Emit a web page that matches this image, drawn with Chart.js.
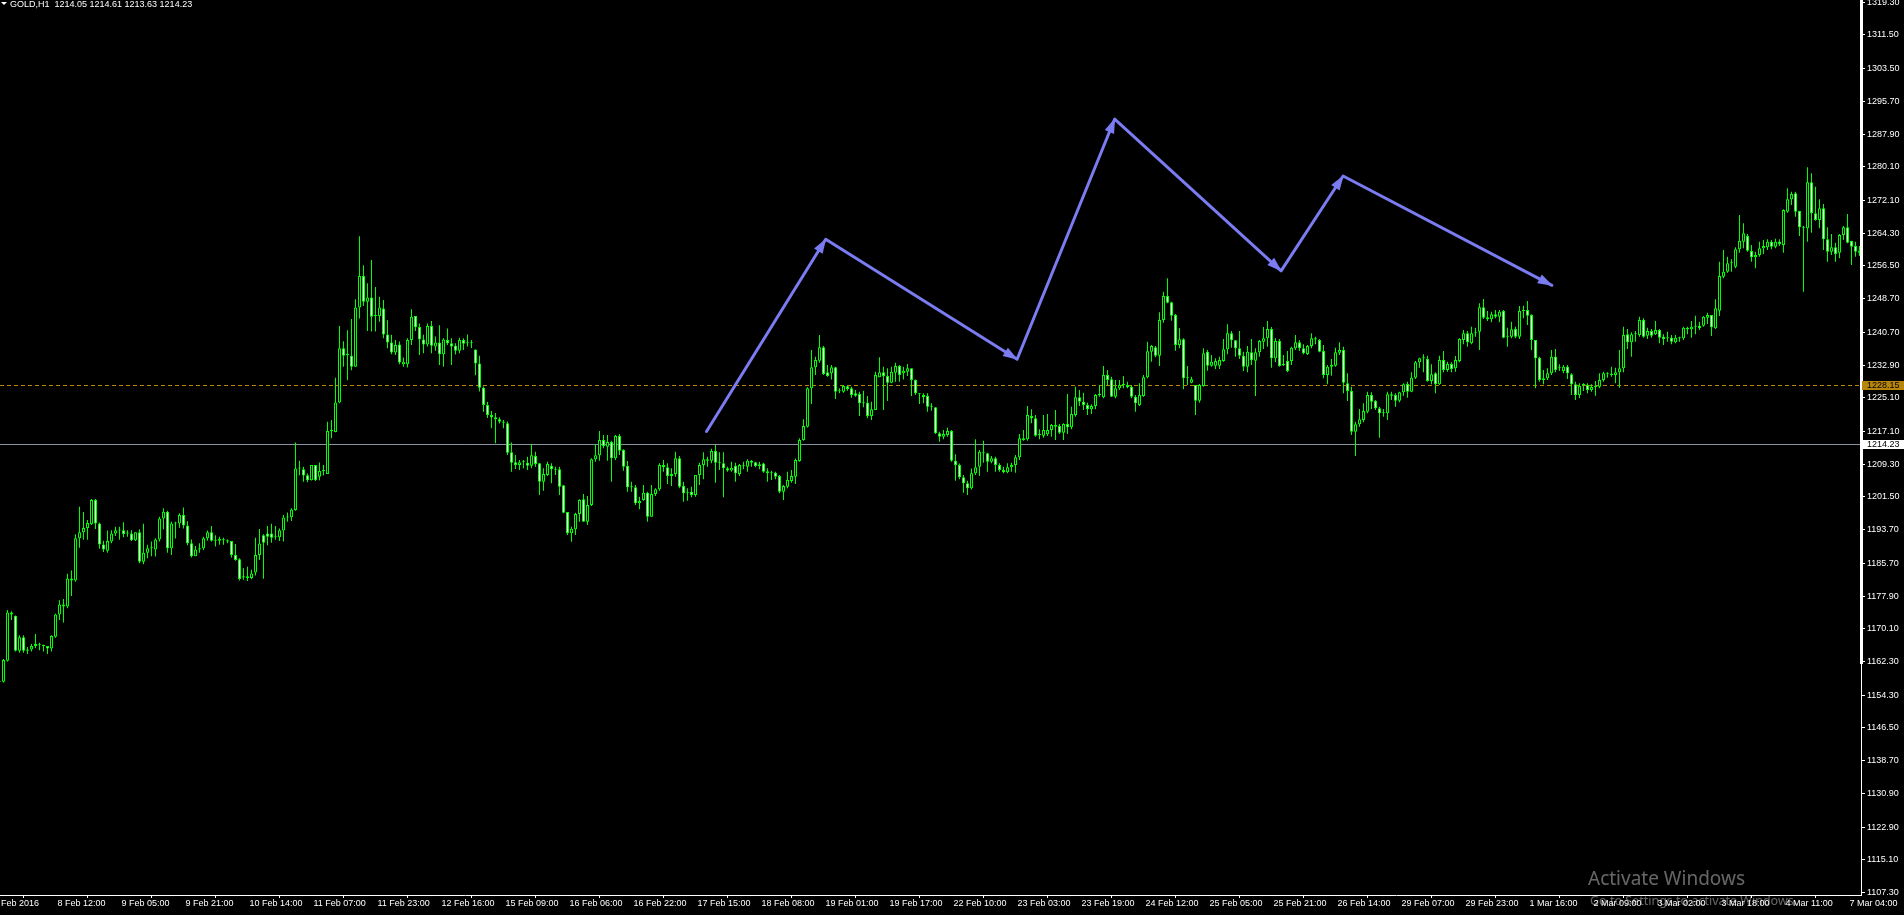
<!DOCTYPE html>
<html><head><meta charset="utf-8">
<script src="https://cdn.jsdelivr.net/npm/chart.js@4.4.1/dist/chart.umd.min.js"></script>
<style>html,body{margin:0;padding:0;background:#000;overflow:hidden}#wrap{width:1904px;height:915px}</style>
</head><body><div id="wrap"><canvas id="c" width="1904" height="915"></canvas></div>
<script>
// ---- data (GOLD, H1) ----
const firstBar = -1; // index of first (partially visible) bar
const opens = [
1157.5,1157.5,1162.5,1174.0,1173.2,1164.9,1168.1,1164.9,1165.2,1166.0,
1166.5,1166.3,1166.0,1165.4,1168.2,1173.5,1175.9,1175.4,1182.1,1181.6,
1191.65,1193.1,1194.1,1195.0,1200.8,1195.2,1190.2,1188.7,1190.9,1192.8,
1193.6,1193.6,1192.8,1192.8,1191.2,1193.1,1186.1,1188.2,1189.3,1189.0,
1191.4,1196.4,1198.0,1189.3,1195.2,1195.2,1197.2,1194.7,1190.5,1187.4,
1189.0,1189.3,1191.65,1193.1,1191.1,1191.1,1191.2,1191.2,1191.0,1187.7,
1186.7,1182.3,1182.6,1182.2,1183.5,1187.7,1192.4,1192.8,1192.8,1192.0,
1191.9,1193.5,1196.6,1196.7,1198.4,1208.3,1208.1,1206.7,1205.5,1209.1,
1206.3,1207.7,1207.0,1217.2,1217.0,1224.0,1236.9,1235.3,1235.1,1232.5,
1246.6,1254.1,1248.0,1249.0,1244.6,1244.6,1246.4,1240.2,1238.3,1235.9,
1237.8,1233.1,1233.1,1238.9,1244.6,1242.0,1239.0,1237.8,1242.2,1237.3,
1238.3,1235.5,1238.9,1238.1,1237.5,1236.3,1238.9,1238.1,1238.1,1236.6,
1233.3,1227.5,1223.4,1221.0,1220.5,1220.0,1219.43,1219.04,1212.13,1209.75,
1209.12,1209.75,1209.67,1208.96,1211.26,1209.51,1205.15,1206.74,1208.96,1208.08,
1208.08,1204.27,1197.93,1192.85,1193.8,1197.45,1200.94,1195.62,1199.59,1210.46,
1211.42,1215.07,1213.48,1214.59,1210.7,1216.02,1212.69,1208.88,1203.8,1203.8,
1199.99,1200.78,1202.53,1196.81,1202.21,1203.32,1209.12,1208.56,1206.5,1206.97,
1210.7,1204.12,1202.37,1202.77,1201.97,1206.74,1209.12,1210.46,1210.15,1212.45,
1209.67,1209.51,1208.32,1207.8,1208.87,1206.96,1209.0,1208.71,1210.06,1209.74,
1208.9,1209.5,1207.6,1207.12,1207.28,1206.49,1202.76,1203.95,1205.3,1206.33,
1210.06,1215.06,1218.23,1227.36,1232.36,1233.95,1237.12,1231.17,1230.93,1232.36,
1226.8,1226.57,1227.84,1227.36,1226.17,1226.01,1223.79,1223.95,1220.77,1222.2,
1229.98,1231.17,1230.3,1228.71,1231.09,1232.68,1230.93,1231.33,1232.12,1229.34,
1226.0,1225.77,1225.53,1223.0,1222.84,1216.65,1215.85,1216.25,1217.2,1210.14,
1209.11,1206.17,1204.74,1203.55,1207.13,1208.71,1212.29,1211.89,1209.9,1210.7,
1209.11,1207.92,1207.37,1208.56,1209.11,1210.94,1215.46,1215.22,1220.78,1220.22,
1216.26,1216.1,1216.41,1217.45,1218.63,1218.4,1216.81,1218.87,1218.08,1221.02,
1225.22,1224.19,1223.4,1222.37,1223.16,1225.78,1225.22,1230.54,1229.51,1225.38,
1227.37,1228.16,1228.16,1227.76,1225.38,1223.4,1225.54,1229.98,1236.1,1237.13,
1235.14,1243.64,1249.35,1247.84,1244.83,1237.68,1239.03,1229.75,1228.71,1228.16,
1224.43,1227.92,1236.1,1232.76,1232.76,1232.76,1233.88,1236.65,1240.46,1238.8,
1236.89,1235.14,1232.53,1235.94,1233.95,1235.94,1238.48,1239.27,1241.49,1234.51,
1238.64,1232.92,1233.88,1233.88,1236.89,1238.32,1236.89,1235.54,1237.45,1239.27,
1238.87,1236.26,1230.54,1232.53,1232.76,1235.86,1236.49,1228.56,1226.73,1217.05,
1218.8,1219.83,1221.81,1225.78,1224.35,1222.6,1221.41,1221.41,1225.94,1225.78,
1224.43,1226.41,1228.4,1226.57,1229.91,1233.56,1234.51,1234.35,1229.11,1230.94,
1228.32,1234.11,1231.73,1233.16,1232.13,1233.88,1238.87,1240.46,1238.08,1240.46,
1240.86,1246.65,1243.8,1243.8,1244.99,1244.43,1245.78,1239.67,1239.67,1241.49,
1239.67,1245.78,1246.02,1244.83,1238.87,1234.67,1229.75,1229.75,1230.94,1234.91,
1232.13,1231.49,1232.53,1230.7,1228.32,1225.78,1228.16,1228.16,1226.97,1227.68,
1227.76,1229.35,1230.86,1230.86,1230.54,1231.18,1232.13,1240.22,1238.32,1240.22,
1240.07,1243.64,1239.91,1241.02,1240.22,1241.26,1239.67,1239.27,1239.43,1238.32,
1239.27,1239.27,1241.81,1241.41,1242.05,1242.29,1242.29,1244.19,1244.83,1241.65,
1245.86,1253.95,1255.14,1257.13,1256.33,1260.46,1262.29,1263.63,1260.06,1258.56,
1259.11,1260.7,1260.94,1262.29,1261.1,1262.29,1261.49,1269.43,1272.36,1273.79,
1269.59,1265.62,1265.46,1276.41,1269.03,1267.44,1270.22,1262.84,1259.9,1260.94,
1259.67,1263.87,1265.7,1262.44,1261.25,1260.14
];
const highs = [
1157.8,1162.9,1174.6,1174.3,1173.3,1168.6,1168.6,1165.8,1166.5,1168.9,
1166.8,1166.3,1166.0,1168.6,1173.7,1176.9,1177.2,1183.2,1184.0,1192.6,
1199.2,1197.9,1196.0,1201.0,1201.0,1195.4,1191.1,1193.5,1193.6,1194.4,
1194.4,1195.5,1193.6,1193.6,1193.1,1193.8,1195.1,1190.1,1190.9,1191.65,
1196.8,1198.8,1198.2,1195.6,1195.6,1197.6,1199.0,1195.7,1191.4,1189.8,
1190.5,1192.0,1193.5,1194.6,1192.4,1192.0,1191.8,1191.4,1191.0,1190.3,
1186.9,1184.5,1184.9,1184.2,1191.8,1193.9,1192.6,1194.6,1195.1,1194.6,
1194.0,1197.2,1197.8,1198.8,1214.5,1210.1,1208.7,1207.1,1209.1,1209.1,
1209.7,1209.1,1219.4,1219.8,1229.9,1242.2,1238.6,1241.2,1243.9,1248.6,
1263.6,1256.7,1252.4,1257.9,1251.5,1249.2,1248.4,1243.6,1240.1,1238.9,
1238.5,1234.7,1239.3,1246.2,1244.6,1242.8,1240.1,1242.8,1243.4,1239.7,
1242.4,1239.3,1241.6,1239.3,1238.1,1239.4,1239.3,1240.2,1238.9,1236.6,
1235.1,1227.8,1224.2,1222.0,1221.5,1220.5,1219.83,1219.5,1214.5,1211.5,
1210.31,1210.31,1211.1,1214.1,1212.29,1209.6,1208.32,1209.91,1209.51,1208.72,
1208.72,1204.27,1197.93,1194.43,1197.77,1200.94,1202.21,1201.74,1210.7,1214.1,
1217.2,1216.26,1216.26,1214.91,1216.26,1216.5,1212.85,1210.07,1205.15,1204.35,
1201.58,1204.35,1202.77,1204.35,1203.56,1209.51,1210.31,1209.51,1208.32,1212.29,
1211.26,1205.15,1203.56,1203.96,1206.74,1209.67,1212.13,1211.1,1213.0,1213.88,
1212.13,1212.13,1208.72,1209.9,1209.66,1209.34,1209.9,1210.46,1210.3,1209.9,
1209.9,1209.66,1208.31,1207.76,1207.52,1206.73,1204.35,1207.52,1207.92,1210.69,
1215.46,1219.98,1227.6,1236.49,1234.9,1240.06,1237.44,1232.92,1232.92,1232.52,
1227.36,1228.15,1228.07,1227.76,1226.96,1226.57,1226.8,1225.53,1224.19,1231.33,
1234.74,1232.52,1232.12,1232.52,1233.47,1232.92,1232.52,1233.15,1232.12,1229.5,
1226.17,1226.17,1226.17,1223.79,1222.84,1217.04,1217.44,1218.07,1217.44,1211.65,
1209.5,1206.73,1205.38,1208.3,1215.22,1212.68,1214.9,1212.05,1211.25,1211.1,
1209.51,1208.71,1209.51,1209.67,1211.49,1216.49,1217.45,1223.16,1222.37,1221.02,
1217.6,1221.02,1221.25,1218.87,1222.21,1218.87,1219.03,1226.02,1223.0,1227.76,
1226.97,1226.33,1223.95,1223.56,1226.02,1228.16,1232.68,1231.73,1230.14,1229.35,
1229.35,1230.3,1228.95,1228.16,1225.78,1228.56,1230.54,1238.48,1237.68,1237.44,
1245.46,1250.38,1253.56,1248.0,1245.06,1241.65,1239.27,1232.68,1230.14,1228.16,
1228.4,1236.89,1236.49,1235.3,1234.51,1234.91,1239.11,1242.6,1241.02,1238.87,
1241.02,1236.1,1237.45,1239.11,1236.89,1238.87,1241.97,1243.4,1241.97,1239.27,
1239.11,1235.3,1236.26,1237.29,1240.07,1238.87,1237.84,1237.68,1240.46,1239.67,
1239.11,1237.68,1232.92,1234.35,1237.05,1238.32,1237.29,1230.94,1227.76,1219.43,
1222.45,1223.8,1226.57,1226.41,1224.59,1223.0,1222.45,1226.57,1226.57,1226.18,
1226.57,1228.56,1228.95,1231.18,1233.88,1234.67,1235.46,1235.14,1233.08,1231.18,
1235.14,1236.26,1233.72,1233.56,1235.06,1239.27,1241.26,1241.02,1242.05,1241.81,
1247.6,1248.64,1245.78,1245.62,1246.02,1246.02,1246.02,1241.81,1243.24,1242.05,
1246.97,1247.05,1248.16,1244.99,1238.87,1234.91,1231.73,1232.13,1236.49,1236.73,
1233.08,1232.92,1232.92,1230.94,1228.95,1228.56,1228.56,1228.56,1228.32,1229.11,
1230.94,1231.33,1231.18,1232.53,1232.29,1236.49,1242.05,1241.49,1240.7,1241.02,
1244.43,1244.03,1241.81,1241.49,1243.4,1241.49,1240.22,1240.86,1240.07,1240.07,
1239.67,1242.05,1242.05,1243.4,1244.67,1243.24,1244.59,1245.38,1244.83,1248.56,
1257.52,1260.3,1258.71,1258.08,1260.94,1268.64,1266.65,1264.11,1261.49,1259.9,
1262.29,1262.68,1262.84,1262.68,1263.0,1262.84,1269.98,1274.98,1274.19,1274.19,
1269.67,1266.02,1279.98,1278.56,1275.38,1272.36,1271.25,1265.7,1264.11,1262.05,
1264.11,1266.02,1268.87,1262.52,1262.29,1261.25
];
const lows = [
1157.2,1157.3,1162.3,1172.2,1164.7,1164.4,1164.4,1164.1,1164.7,1165.5,
1165.0,1164.7,1164.1,1164.7,1168.0,1172.2,1171.6,1175.0,1177.9,1181.3,
1189.4,1191.3,1191.3,1194.8,1193.9,1189.2,1188.4,1188.2,1190.5,1192.2,
1191.3,1191.9,1192.0,1191.0,1191.0,1185.7,1185.5,1186.9,1187.4,1187.3,
1190.9,1193.8,1188.2,1187.7,1191.6,1194.2,1194.0,1190.0,1187.1,1187.4,
1188.2,1188.9,1191.1,1190.9,1189.7,1190.1,1190.1,1190.5,1187.1,1186.3,
1181.6,1181.8,1181.5,1181.9,1182.8,1186.5,1182.0,1190.0,1190.6,1191.3,
1191.0,1190.9,1195.6,1195.8,1198.2,1206.7,1205.1,1205.0,1205.4,1205.3,
1205.5,1206.6,1207.0,1215.5,1216.9,1223.8,1232.5,1229.3,1231.7,1232.5,
1244.0,1247.0,1241.0,1240.9,1240.9,1243.2,1239.3,1236.9,1235.5,1235.3,
1233.1,1232.5,1232.3,1237.7,1241.0,1235.3,1235.7,1237.3,1235.7,1236.3,
1232.9,1232.5,1237.7,1232.9,1235.4,1235.7,1236.5,1237.3,1237.0,1230.5,
1226.6,1221.8,1220.3,1217.85,1214.27,1219.0,1217.85,1211.5,1207.53,1208.16,
1207.93,1208.32,1207.93,1208.32,1208.72,1201.97,1203.0,1206.5,1204.75,1206.74,
1201.97,1197.61,1192.45,1190.86,1192.45,1195.62,1195.62,1194.83,1199.35,1209.91,
1210.15,1213.08,1210.15,1205.15,1210.31,1211.5,1207.77,1202.77,1202.77,1199.59,
1198.56,1200.62,1195.62,1196.81,1201.74,1203.0,1207.53,1204.59,1204.12,1206.34,
1203.56,1200.39,1200.62,1201.42,1201.58,1204.35,1205.7,1208.72,1209.51,1204.91,
1207.93,1201.42,1207.53,1207.52,1205.14,1206.49,1208.08,1207.52,1208.71,1208.55,
1208.08,1207.28,1205.14,1205.54,1205.7,1202.36,1200.77,1203.55,1204.9,1204.58,
1209.9,1214.9,1218.07,1223.63,1230.53,1233.47,1230.53,1230.14,1229.5,1224.82,
1226.17,1226.33,1226.8,1225.14,1225.38,1220.77,1222.84,1220.22,1219.82,1222.2,
1229.98,1222.2,1224.34,1228.55,1228.95,1228.95,1229.5,1230.3,1225.53,1225.77,
1223.63,1223.79,1221.8,1222.04,1216.49,1214.66,1215.22,1215.85,1209.9,1205.38,
1205.7,1202.52,1201.96,1203.3,1206.73,1206.49,1209.67,1207.52,1209.51,1207.52,
1207.52,1207.13,1207.13,1207.52,1207.29,1210.3,1214.9,1214.9,1219.03,1215.86,
1215.22,1215.62,1216.02,1215.86,1215.06,1216.49,1215.06,1216.49,1217.6,1220.62,
1223.16,1222.21,1221.02,1221.25,1222.37,1225.38,1224.98,1228.16,1225.38,1224.98,
1226.97,1227.37,1227.37,1224.98,1221.81,1223.16,1225.38,1229.75,1233.71,1234.75,
1232.68,1243.0,1247.6,1243.48,1236.33,1236.89,1227.13,1228.16,1228.56,1221.02,
1223.95,1227.76,1231.57,1232.52,1231.97,1231.97,1233.72,1235.46,1237.05,1234.91,
1234.35,1231.49,1231.18,1232.92,1225.54,1234.91,1236.73,1237.29,1232.29,1233.56,
1232.53,1232.68,1231.18,1232.92,1236.49,1236.26,1235.46,1235.3,1236.89,1237.84,
1235.94,1229.75,1228.32,1230.38,1232.53,1235.3,1226.18,1224.35,1216.26,1211.26,
1218.24,1219.27,1221.41,1222.45,1222.21,1215.62,1220.62,1219.83,1224.59,1223.0,
1224.04,1225.62,1225.15,1226.41,1229.59,1232.29,1231.18,1228.95,1228.32,1226.18,
1228.16,1231.18,1231.33,1231.18,1231.33,1233.56,1237.84,1237.29,1237.84,1239.67,
1236.49,1243.87,1243.4,1243.08,1244.03,1243.08,1239.27,1237.29,1239.27,1239.27,
1239.11,1244.03,1242.45,1236.49,1227.37,1228.95,1228.32,1229.35,1230.54,1231.18,
1231.49,1230.94,1229.59,1225.78,1224.59,1224.99,1226.73,1226.18,1226.57,1225.62,
1227.37,1228.95,1229.91,1230.15,1228.56,1227.53,1231.18,1236.73,1234.91,1238.48,
1239.67,1239.43,1239.11,1239.43,1240.07,1238.08,1237.68,1238.48,1237.84,1238.08,
1238.48,1238.87,1240.22,1239.43,1240.22,1241.26,1242.05,1242.68,1239.83,1241.49,
1244.59,1253.56,1254.9,1255.14,1255.94,1259.67,1260.7,1259.9,1257.52,1255.94,
1258.71,1259.35,1260.3,1260.46,1260.7,1261.25,1259.67,1269.19,1271.02,1268.24,
1263.63,1250.38,1262.29,1264.43,1267.29,1265.46,1260.3,1257.52,1259.11,1257.52,
1258.32,1262.68,1261.89,1256.73,1258.71,1258.87
];
const closes = [
1157.5,1162.7,1174.0,1173.5,1164.9,1168.1,1164.9,1165.2,1166.0,1166.5,
1166.3,1166.0,1165.4,1168.4,1173.5,1175.9,1175.4,1182.1,1181.6,1191.65,
1193.1,1194.1,1195.3,1200.8,1195.2,1190.2,1189.0,1191.0,1192.8,1193.6,
1193.5,1192.7,1192.8,1191.2,1193.1,1186.1,1188.2,1189.3,1189.3,1191.4,
1196.4,1198.0,1189.3,1195.2,1195.2,1197.2,1194.7,1190.5,1187.4,1189.0,
1189.3,1191.65,1193.1,1191.1,1191.1,1191.5,1191.2,1190.9,1187.7,1186.5,
1181.95,1182.6,1182.2,1183.3,1187.7,1190.45,1190.6,1192.0,1191.8,1192.0,
1193.6,1196.6,1196.8,1198.5,1208.3,1208.3,1206.6,1205.5,1209.1,1205.5,
1207.7,1207.9,1217.2,1217.2,1224.0,1236.9,1235.1,1235.3,1232.5,1246.6,
1254.1,1248.0,1249.0,1244.4,1244.6,1246.6,1240.2,1238.3,1235.9,1237.7,
1233.5,1233.7,1238.9,1244.4,1241.9,1239.0,1237.8,1242.2,1237.5,1238.3,
1235.5,1239.0,1238.1,1237.3,1236.3,1238.9,1238.0,1238.1,1238.1,1233.3,
1227.5,1223.4,1221.0,1220.5,1220.0,1219.43,1219.2,1212.05,1209.67,1209.12,
1209.75,1209.91,1208.96,1211.42,1209.35,1205.15,1206.97,1209.35,1208.08,1208.0,
1203.96,1197.77,1192.85,1193.96,1197.45,1200.78,1195.62,1199.59,1210.46,1211.42,
1215.07,1213.64,1214.59,1210.7,1216.02,1212.53,1208.72,1203.8,1203.8,1199.99,
1200.54,1202.53,1196.81,1202.21,1203.32,1209.12,1208.56,1206.5,1206.97,1210.7,
1203.96,1202.37,1202.53,1201.97,1206.74,1209.12,1210.46,1210.15,1212.45,1209.67,
1209.83,1208.32,1207.8,1208.47,1207.12,1209.11,1208.95,1210.14,1209.66,1208.87,
1209.3,1207.52,1207.12,1207.12,1206.33,1202.76,1204.11,1205.54,1206.49,1210.3,
1215.06,1218.39,1227.36,1232.36,1234.11,1237.12,1230.77,1230.3,1232.36,1226.57,
1226.8,1227.92,1227.2,1225.77,1225.61,1223.79,1223.79,1220.77,1222.36,1230.53,
1231.17,1230.3,1228.71,1231.33,1232.68,1230.53,1231.57,1232.12,1229.34,1226.17,
1225.93,1225.22,1223.0,1223.0,1216.65,1215.85,1216.49,1217.2,1210.14,1209.11,
1206.17,1204.74,1203.55,1207.12,1208.56,1212.29,1212.05,1209.9,1210.7,1209.11,
1207.92,1207.37,1208.56,1209.11,1210.94,1215.46,1215.06,1221.02,1220.22,1216.1,
1216.26,1217.45,1217.45,1218.63,1218.24,1216.81,1218.87,1218.08,1221.25,1225.22,
1224.19,1223.4,1222.37,1223.16,1225.78,1225.78,1230.54,1229.35,1225.38,1227.37,
1228.16,1228.16,1227.6,1225.38,1223.79,1225.78,1229.98,1236.17,1237.44,1235.14,
1243.64,1249.35,1247.76,1244.67,1237.68,1239.03,1229.75,1229.75,1229.51,1224.43,
1228.16,1235.7,1232.76,1233.71,1233.88,1234.11,1236.65,1240.46,1238.8,1236.89,
1235.14,1232.53,1236.1,1234.03,1235.94,1238.64,1239.27,1241.49,1234.51,1238.64,
1232.68,1232.92,1231.49,1237.05,1238.32,1236.89,1235.7,1237.45,1239.27,1239.0,
1236.1,1230.54,1232.53,1232.92,1235.94,1236.49,1228.72,1226.73,1217.05,1218.8,
1219.99,1221.97,1225.78,1224.19,1222.6,1221.41,1221.41,1225.94,1225.62,1224.43,
1226.41,1228.32,1226.57,1229.91,1233.56,1234.51,1234.51,1229.11,1230.7,1228.32,
1234.11,1231.73,1233.16,1231.97,1234.11,1239.11,1240.46,1238.32,1240.46,1240.7,
1246.65,1244.19,1244.27,1244.99,1244.43,1245.62,1239.43,1239.67,1241.41,1239.67,
1245.78,1246.02,1244.67,1238.87,1234.51,1229.35,1229.35,1230.94,1234.91,1231.73,
1232.13,1232.53,1230.94,1228.32,1225.78,1228.0,1228.16,1226.97,1227.68,1228.0,
1229.35,1230.94,1230.86,1230.54,1231.18,1232.13,1240.07,1238.32,1240.22,1240.46,
1243.64,1239.67,1241.02,1239.91,1241.26,1239.43,1239.11,1239.27,1238.48,1239.43,
1239.27,1241.81,1241.41,1242.05,1242.29,1241.65,1244.43,1244.83,1241.89,1246.41,
1254.11,1255.14,1257.13,1257.29,1260.46,1262.44,1264.27,1260.14,1258.56,1259.11,
1260.7,1261.25,1262.29,1261.1,1262.29,1261.73,1269.83,1272.36,1273.63,1269.43,
1265.7,1265.62,1276.41,1269.03,1267.44,1270.22,1262.84,1259.9,1260.94,1259.35,
1263.87,1265.7,1262.05,1261.1,1259.9,1259.67
];
const timeTickBars = [-3,13,29,45,61,77,93,109,125,141,157,173,189,205,221,237,253,269,285,301,317,333,349,365,381,397,413,429,445,461];
const timeTickLabels = ["8 Feb 2016","8 Feb 12:00","9 Feb 05:00","9 Feb 21:00","10 Feb 14:00","11 Feb 07:00","11 Feb 23:00","12 Feb 16:00","15 Feb 09:00","16 Feb 06:00","16 Feb 22:00","17 Feb 15:00","18 Feb 08:00","19 Feb 01:00","19 Feb 17:00","22 Feb 10:00","23 Feb 03:00","23 Feb 19:00","24 Feb 12:00","25 Feb 05:00","25 Feb 21:00","26 Feb 14:00","29 Feb 07:00","29 Feb 23:00","1 Mar 16:00","2 Mar 09:00","3 Mar 02:00","3 Mar 18:00","4 Mar 11:00","7 Mar 04:00"];
const priceTicks = [1319.30,1311.50,1303.50,1295.70,1287.90,1280.10,1272.10,1264.30,1256.50,1248.70,1240.70,1232.90,1225.10,1217.10,1209.30,1201.50,1193.70,1185.70,1177.90,1170.10,1162.30,1154.30,1146.50,1138.70,1130.90,1122.90,1115.10,1107.30];
const arrowBars   = [175.75, 205.55, 253.4, 277.8, 319.4, 334.9, 387.1];
const arrowPrices = [1217.09, 1262.87, 1234.28, 1291.49, 1255.35, 1277.92, 1251.9];
const askPrice = 1228.15;
const bidPrice = 1214.23;
const headerText = "GOLD,H1  1214.05 1214.61 1213.63 1214.23";

// ---- build ----
const barX = opens.map((_, k) => firstBar + k);
const wickData = barX.map((x, k) => ({x, y: [lows[k], highs[k]]}));
const bodyData = barX.map((x, k) => ({x, y: [Math.min(opens[k], closes[k]), Math.max(opens[k], closes[k])]}));
const bodyFill = barX.map((_, k) => closes[k] < opens[k] ? '#ffffff' : '#000000');
const arrowData = arrowBars.map((x, i) => ({x, y: arrowPrices[i]}));
const ARROW = '#7b7bf2';
const FONT = '"Liberation Sans", Arial, sans-serif';

const overlay = {
  id: 'overlay',
  beforeDraw(chart) {
    const c = chart.ctx; c.save(); c.fillStyle = '#000'; c.fillRect(0, 0, chart.width, chart.height); c.restore();
  },
  beforeDatasetsDraw(chart) {
    const {ctx, chartArea: a, scales: {y}} = chart;
    ctx.save();
    const yb = Math.round(y.getPixelForValue(bidPrice)) + 0.5;
    ctx.strokeStyle = '#8893a6'; ctx.lineWidth = 1;
    ctx.beginPath(); ctx.moveTo(a.left, yb); ctx.lineTo(a.right, yb); ctx.stroke();
    const ya = Math.round(y.getPixelForValue(askPrice)) + 0.5;
    ctx.strokeStyle = '#b8860b'; ctx.setLineDash([4, 3]);
    ctx.beginPath(); ctx.moveTo(a.left, ya); ctx.lineTo(a.right, ya); ctx.stroke();
    ctx.restore();
  },
  afterDatasetsDraw(chart) {
    const {ctx, scales: {x, y}} = chart;
    const pts = arrowData.map(p => ({px: x.getPixelForValue(p.x), py: y.getPixelForValue(p.y)}));
    ctx.save(); ctx.fillStyle = ARROW;
    for (let i = 1; i < pts.length; i++) {
      const p = pts[i], q = pts[i - 1];
      const dx = p.px - q.px, dy = p.py - q.py, L = Math.hypot(dx, dy);
      const ux = dx / L, uy = dy / L, len = 14, hw = 5;
      ctx.beginPath();
      ctx.moveTo(p.px + ux, p.py + uy);
      ctx.lineTo(p.px - ux * len - uy * hw, p.py - uy * len + ux * hw);
      ctx.lineTo(p.px - ux * len + uy * hw, p.py - uy * len - ux * hw);
      ctx.closePath(); ctx.fill();
    }
    ctx.restore();
  },
  afterDraw(chart) {
    const {ctx, chartArea: a, scales: {y}} = chart;
    ctx.save();
    // thick upper part of the price-scale line
    ctx.fillStyle = '#ffffff'; ctx.fillRect(a.right - 1, 0, 3, 664);
    // price boxes
    ctx.font = '9px ' + FONT; ctx.textBaseline = 'middle'; ctx.textAlign = 'left';
    const ya = Math.round(y.getPixelForValue(askPrice));
    ctx.fillStyle = '#b8860b'; ctx.fillRect(a.right + 1, ya - 4, chart.width - a.right - 1, 9);
    ctx.fillStyle = '#000'; ctx.fillText(askPrice.toFixed(2), a.right + 6, ya + 0.5);
    const yb = Math.round(y.getPixelForValue(bidPrice));
    ctx.fillStyle = '#ffffff'; ctx.fillRect(a.right, yb - 4, chart.width - a.right, 9);
    ctx.fillStyle = '#000'; ctx.fillText(bidPrice.toFixed(2), a.right + 6, yb + 0.5);
    // header
    ctx.fillStyle = '#fff';
    ctx.beginPath(); ctx.moveTo(1, 2); ctx.lineTo(7, 2); ctx.lineTo(4, 5); ctx.closePath(); ctx.fill();
    ctx.textBaseline = 'alphabetic'; ctx.font = '9px ' + FONT;
    ctx.fillText(headerText, 10, 7);
    // OS watermark
    ctx.fillStyle = 'rgba(255,255,255,0.40)';
    ctx.font = '19px "Noto Sans", "Open Sans", sans-serif';
    ctx.fillText('Activate Windows', 1588, 885);
    ctx.font = '12.5px "Noto Sans", "Open Sans", sans-serif';
    ctx.fillText('Go to Settings to activate Windows.', 1590, 905);
    ctx.restore();
  }
};

Chart.defaults.font.family = FONT;
new Chart(document.getElementById('c'), {
  type: 'bar',
  data: {
    datasets: [
      {type: 'line', data: arrowData, borderColor: ARROW, borderWidth: 3, pointRadius: 0, tension: 0,
       borderJoinStyle: 'round', borderCapStyle: 'round', order: 0},
      {data: bodyData, backgroundColor: bodyFill, borderColor: '#00ff00', borderWidth: 1, borderSkipped: false,
       barThickness: 3, maxBarThickness: 3, barPercentage: 1, categoryPercentage: 1, minBarLength: 1,
       grouped: false, inflateAmount: 0, order: 1},
      {data: wickData, backgroundColor: '#00ff00', borderWidth: 0,
       barThickness: 1, maxBarThickness: 1, barPercentage: 1, categoryPercentage: 1, minBarLength: 1,
       grouped: false, inflateAmount: 0, order: 2}
    ]
  },
  options: {
    responsive: false, animation: false, devicePixelRatio: 1, events: [],
    layout: {padding: 0},
    plugins: {legend: {display: false}, tooltip: {enabled: false}},
    scales: {
      x: {
        type: 'linear', bounds: 'data', min: -0.875, max: 464.375, offset: false,
        grid: {drawOnChartArea: false, drawTicks: true, tickLength: 3, color: '#ffffff'},
        border: {display: true, color: '#ffffff', width: 1},
        ticks: {color: '#ffffff', font: {size: 9}, padding: 0, autoSkip: false, maxRotation: 0, minRotation: 0,
                align: 'start', labelOffset: 2,
                callback: v => { const i = timeTickBars.indexOf(v); return i < 0 ? '' : timeTickLabels[i]; }},
        afterBuildTicks: s => { s.ticks = timeTickBars.map(v => ({value: v})); },
        afterFit: s => { s.height = 20; s.paddingLeft = 0; s.paddingRight = 0; }
      },
      y: {
        type: 'linear', position: 'right', bounds: 'data', min: 1106.73, max: 1319.83,
        grid: {drawOnChartArea: false, drawTicks: true, tickLength: 4, color: '#ffffff'},
        border: {display: true, color: '#ffffff', width: 1},
        ticks: {color: '#ffffff', font: {size: 9}, padding: 2, autoSkip: false, crossAlign: 'near',
                callback: v => Number(v).toFixed(2)},
        afterBuildTicks: s => { s.ticks = priceTicks.map(v => ({value: v})); },
        afterFit: s => { s.width = 43; s.paddingTop = 0; s.paddingBottom = 0; }
      }
    }
  },
  plugins: [overlay]
});
</script>
</body></html>
